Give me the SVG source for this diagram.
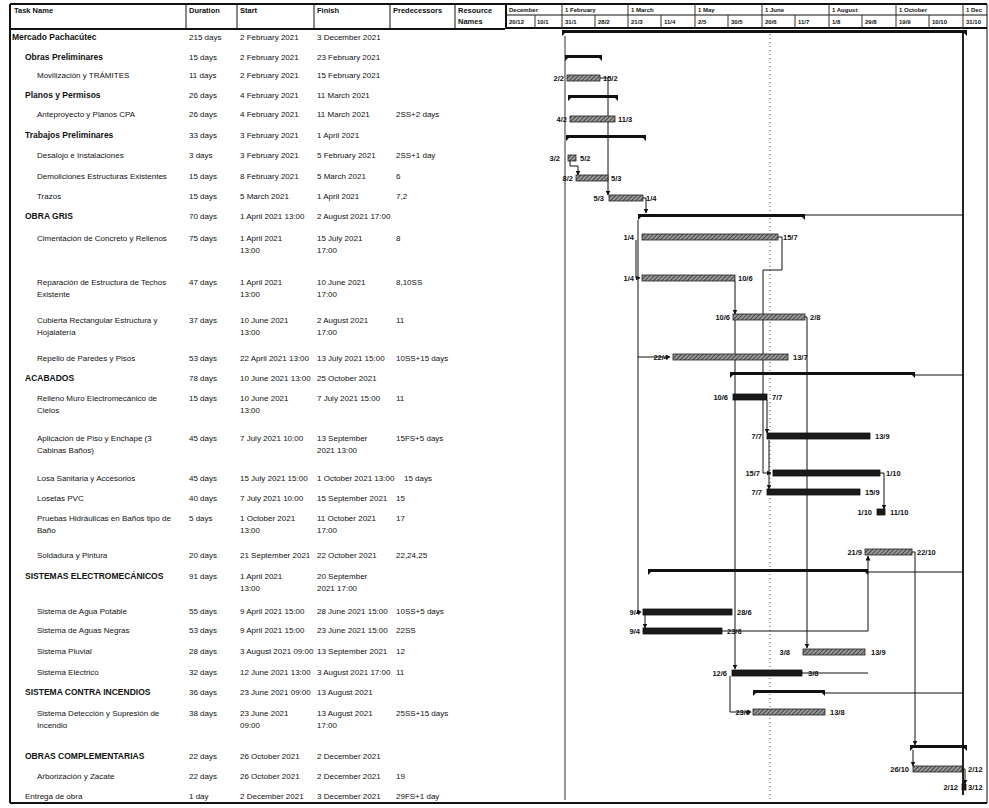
<svg xmlns="http://www.w3.org/2000/svg" width="989" height="808" viewBox="0 0 989 808">
<style>
text{font-family:"Liberation Sans",Arial,sans-serif;fill:#111}
.t{font-size:8px}
.s{font-size:8.5px;font-weight:bold}
.p{font-size:8px}
.h{font-size:7.5px;font-weight:bold}
.tl{font-size:6px;font-weight:bold}
.lb{font-size:7.5px;font-weight:bold}
.ln{stroke:#111;stroke-width:1;fill:none}
.thk{stroke:#111;stroke-width:2;fill:none}
.grid{stroke:#333;stroke-width:1;fill:none}
.dot{stroke:#555;stroke-width:1;stroke-dasharray:1 3;fill:none}
.sum{fill:#111}
.task{fill:url(#hatch);stroke:#222;stroke-width:0.8}
.crit{fill:#1a1a1a;stroke:#111;stroke-width:0.8}
.conn{stroke:#111;stroke-width:1;fill:none}
</style>
<defs>
<pattern id="hatch" width="3" height="3" patternUnits="userSpaceOnUse" patternTransform="rotate(45)">
<rect width="3" height="3" fill="#9a9a9a"/><line x1="0" y1="0" x2="0" y2="3" stroke="#222" stroke-width="1.4"/>
</pattern>
<marker id="ah" markerWidth="5" markerHeight="5" refX="4.5" refY="2.5" orient="auto" markerUnits="userSpaceOnUse">
<path d="M0,0 L5,2.5 L0,5 Z" fill="#111"/>
</marker>
</defs>
<rect width="989" height="808" fill="#fff"/>

<g id="table-frame">
<line class="thk" x1="10" y1="4" x2="10" y2="803"/>
<line class="thk" x1="10" y1="4" x2="987" y2="4"/>
<line class="thk" x1="10" y1="29" x2="505" y2="29"/>
<line class="thk" x1="10" y1="803" x2="987" y2="803"/>
<line class="ln" x1="186" y1="4" x2="186" y2="29"/>
<line class="ln" x1="237" y1="4" x2="237" y2="29"/>
<line class="ln" x1="314" y1="4" x2="314" y2="29"/>
<line class="ln" x1="390" y1="4" x2="390" y2="29"/>
<line class="ln" x1="455" y1="4" x2="455" y2="29"/>
<line class="thk" x1="506" y1="4" x2="506" y2="29"/>
<text class="h" x="14" y="13">Task Name</text>
<text class="h" x="189" y="13">Duration</text>
<text class="h" x="240" y="13">Start</text>
<text class="h" x="317" y="13">Finish</text>
<text class="h" x="393" y="13">Predecessors</text>
<text class="h" x="458" y="13">Resource</text>
<text class="h" x="458" y="24">Names</text>
</g>

<g id="timescale">
<line class="ln" x1="506" y1="15" x2="987" y2="15"/>
<line class="thk" x1="506" y1="28" x2="987" y2="28"/>
<line class="ln" x1="987" y1="4" x2="987" y2="803"/>
<g class="grid">
<line x1="562" y1="4" x2="562" y2="28"/><line x1="628" y1="4" x2="628" y2="28"/><line x1="695" y1="4" x2="695" y2="28"/><line x1="762" y1="4" x2="762" y2="28"/><line x1="829" y1="4" x2="829" y2="28"/><line x1="896" y1="4" x2="896" y2="28"/><line x1="963" y1="4" x2="963" y2="28"/>
<line x1="535" y1="15" x2="535" y2="28"/><line x1="595" y1="15" x2="595" y2="28"/><line x1="661" y1="15" x2="661" y2="28"/><line x1="728" y1="15" x2="728" y2="28"/><line x1="795" y1="15" x2="795" y2="28"/><line x1="862" y1="15" x2="862" y2="28"/><line x1="929" y1="15" x2="929" y2="28"/>
</g>
<text class="tl" x="509" y="12">December</text>
<text class="tl" x="565" y="12">1 February</text>
<text class="tl" x="631" y="12">1 March</text>
<text class="tl" x="698" y="12">1 May</text>
<text class="tl" x="765" y="12">1 June</text>
<text class="tl" x="832" y="12">1 August</text>
<text class="tl" x="899" y="12">1 October</text>
<text class="tl" x="966" y="12">1 Dec</text>
<text class="tl" x="509" y="24">20/12</text><text class="tl" x="537" y="24">10/1</text>
<text class="tl" x="565" y="24">31/1</text><text class="tl" x="598" y="24">28/2</text>
<text class="tl" x="631" y="24">21/3</text><text class="tl" x="664" y="24">11/4</text>
<text class="tl" x="698" y="24">2/5</text><text class="tl" x="731" y="24">30/5</text>
<text class="tl" x="765" y="24">20/6</text><text class="tl" x="798" y="24">11/7</text>
<text class="tl" x="832" y="24">1/8</text><text class="tl" x="865" y="24">29/8</text>
<text class="tl" x="899" y="24">19/9</text><text class="tl" x="932" y="24">10/10</text>
<text class="tl" x="966" y="24">31/10</text>
</g>

<g id="gridlines">
<line class="grid" x1="565" y1="36" x2="565" y2="800"/>
<line class="dot" x1="770" y1="30" x2="770" y2="800"/>
<line x1="963" y1="30" x2="963" y2="795" stroke="#222" stroke-width="2"/>
</g>

<g id="connectors">
<path class="conn" d="M600,78 H608 V195" marker-end="url(#ah)"/>
<path class="conn" d="M570,161 V166 H578 V175" marker-end="url(#ah)"/>
<path class="conn" d="M643,198 H646 V213" marker-end="url(#ah)"/>
<path class="conn" d="M638,220 V612 H641" marker-end="url(#ah)"/>
<path class="conn" d="M636,240 V278 H640" marker-end="url(#ah)"/>
<path class="conn" d="M638,357 H670" marker-end="url(#ah)"/>
<path class="conn" d="M778,237 H782 V270 H763 V473 H771" marker-end="url(#ah)"/>
<path class="conn" d="M735,281 V314" marker-end="url(#ah)"/>
<path class="conn" d="M735,320 V669" marker-end="url(#ah)"/>
<path class="conn" d="M805,317 H807 V648" marker-end="url(#ah)"/>
<path class="conn" d="M767,400 V433" marker-end="url(#ah)"/>
<path class="conn" d="M769,440 V489" marker-end="url(#ah)"/>
<path class="conn" d="M880,473 H884 V509" marker-end="url(#ah)"/>
<path class="conn" d="M805,215 H963"/>
<path class="conn" d="M915,375 H963"/>
<path class="conn" d="M868,572 H963"/>
<path class="conn" d="M825,693 H963"/>
<path class="conn" d="M722,631 H868 V556" marker-end="url(#ah)"/>
<path class="conn" d="M802,673 H868"/>
<path class="conn" d="M645,615 V628" marker-end="url(#ah)"/>
<path class="conn" d="M730,676 V712 H751" marker-end="url(#ah)"/>
<path class="conn" d="M912,552 H915 V745" marker-end="url(#ah)"/>
<path class="conn" d="M913,750 V766" marker-end="url(#ah)"/>
<path class="conn" d="M962,769 H965 V784" marker-end="url(#ah)"/>
</g>

<g id="row1">
<text class="s" x="12" y="40">Mercado Pachacútec</text>
<text class="t" x="189" y="40">215 days</text>
<text class="t" x="240" y="40">2 February 2021</text>
<text class="t" x="317" y="40">3 December 2021</text>
<path class="sum" d="M562,30 H967 V36 L964,33 H565 L562,36 Z"/>
</g>
<g id="row2">
<text class="s" x="25" y="60">Obras Preliminares</text>
<text class="t" x="189" y="60">15 days</text>
<text class="t" x="240" y="60">2 February 2021</text>
<text class="t" x="317" y="60">23 February 2021</text>
<path class="sum" d="M565,55 H602 V61 L599,58 H568 L565,61 Z"/>
</g>
<g id="row3">
<text class="t" x="37" y="78">Movilización y TRÁMITES</text>
<text class="t" x="189" y="78">11 days</text>
<text class="t" x="240" y="78">2 February 2021</text>
<text class="t" x="317" y="78">15 February 2021</text>
<rect class="task" x="567" y="75" width="33" height="6"/>
<text class="lb" x="564" y="81" text-anchor="end">2/2</text>
<text class="lb" x="603" y="81">15/2</text>
</g>
<g id="row4">
<text class="s" x="25" y="98">Planos y Permisos</text>
<text class="t" x="189" y="98">26 days</text>
<text class="t" x="240" y="98">4 February 2021</text>
<text class="t" x="317" y="98">11 March 2021</text>
<path class="sum" d="M568,95 H618 V101 L615,98 H571 L568,101 Z"/>
</g>
<g id="row5">
<text class="t" x="37" y="117">Anteproyecto y Planos CPA</text>
<text class="t" x="189" y="117">26 days</text>
<text class="t" x="240" y="117">4 February 2021</text>
<text class="t" x="317" y="117">11 March 2021</text>
<text class="p" x="396" y="117">2SS+2 days</text>
<rect class="task" x="570" y="116" width="45" height="6"/>
<text class="lb" x="567" y="122" text-anchor="end">4/2</text>
<text class="lb" x="618" y="122">11/3</text>
</g>
<g id="row6">
<text class="s" x="25" y="138">Trabajos Preliminares</text>
<text class="t" x="189" y="138">33 days</text>
<text class="t" x="240" y="138">3 February 2021</text>
<text class="t" x="317" y="138">1 April 2021</text>
<path class="sum" d="M566,135 H646 V141 L643,138 H569 L566,141 Z"/>
</g>
<g id="row7">
<text class="t" x="37" y="158">Desalojo e Instalaciones</text>
<text class="t" x="189" y="158">3 days</text>
<text class="t" x="240" y="158">3 February 2021</text>
<text class="t" x="317" y="158">5 February 2021</text>
<text class="p" x="396" y="158">2SS+1 day</text>
<rect class="task" x="568" y="155" width="8" height="6"/>
<text class="lb" x="560" y="161" text-anchor="end">3/2</text>
<text class="lb" x="580" y="161">5/2</text>
</g>
<g id="row8">
<text class="t" x="37" y="179">Demoliciones Estructuras Existentes</text>
<text class="t" x="189" y="179">15 days</text>
<text class="t" x="240" y="179">8 February 2021</text>
<text class="t" x="317" y="179">5 March 2021</text>
<text class="p" x="396" y="179">6</text>
<rect class="task" x="576" y="175" width="32" height="6"/>
<text class="lb" x="573" y="181" text-anchor="end">8/2</text>
<text class="lb" x="611" y="181">5/3</text>
</g>
<g id="row9">
<text class="t" x="37" y="199">Trazos</text>
<text class="t" x="189" y="199">15 days</text>
<text class="t" x="240" y="199">5 March 2021</text>
<text class="t" x="317" y="199">1 April 2021</text>
<text class="p" x="396" y="199">7,2</text>
<rect class="task" x="609" y="195" width="34" height="6"/>
<text class="lb" x="604" y="201" text-anchor="end">5/3</text>
<text class="lb" x="646" y="201">1/4</text>
</g>
<g id="row10">
<text class="s" x="25" y="219">OBRA GRIS</text>
<text class="t" x="189" y="219">70 days</text>
<text class="t" x="240" y="219">1 April 2021 13:00</text>
<text class="t" x="317" y="219">2 August 2021 17:00</text>
<path class="sum" d="M638,214 H805 V220 L802,217 H641 L638,220 Z"/>
</g>
<g id="row11">
<text class="t" x="37" y="241">Cimentación de Concreto y Rellenos</text>
<text class="t" x="189" y="241">75 days</text>
<text class="t" x="240" y="241">1 April 2021</text>
<text class="t" x="240" y="253">13:00</text>
<text class="t" x="317" y="241">15 July 2021</text>
<text class="t" x="317" y="253">17:00</text>
<text class="p" x="396" y="241">8</text>
<rect class="task" x="642" y="234" width="136" height="6"/>
<text class="lb" x="634" y="240" text-anchor="end">1/4</text>
<text class="lb" x="783" y="240">15/7</text>
</g>
<g id="row12">
<text class="t" x="37" y="285">Reparación de Estructura de Techos</text>
<text class="t" x="37" y="297">Existente</text>
<text class="t" x="189" y="285">47 days</text>
<text class="t" x="240" y="285">1 April 2021</text>
<text class="t" x="240" y="297">13:00</text>
<text class="t" x="317" y="285">10 June 2021</text>
<text class="t" x="317" y="297">17:00</text>
<text class="p" x="396" y="285">8,10SS</text>
<rect class="task" x="642" y="275" width="93" height="6"/>
<text class="lb" x="634" y="281" text-anchor="end">1/4</text>
<text class="lb" x="738" y="281">10/6</text>
</g>
<g id="row13">
<text class="t" x="37" y="323">Cubierta Rectangular Estructura y</text>
<text class="t" x="37" y="335">Hojalatería</text>
<text class="t" x="189" y="323">37 days</text>
<text class="t" x="240" y="323">10 June 2021</text>
<text class="t" x="240" y="335">13:00</text>
<text class="t" x="317" y="323">2 August 2021</text>
<text class="t" x="317" y="335">17:00</text>
<text class="p" x="396" y="323">11</text>
<rect class="task" x="733" y="314" width="72" height="6"/>
<text class="lb" x="730" y="320" text-anchor="end">10/6</text>
<text class="lb" x="810" y="320">2/8</text>
</g>
<g id="row14">
<text class="t" x="37" y="361">Repello de Paredes y Pisos</text>
<text class="t" x="189" y="361">53 days</text>
<text class="t" x="240" y="361">22 April 2021 13:00</text>
<text class="t" x="317" y="361">13 July 2021 15:00</text>
<text class="p" x="396" y="361">10SS+15 days</text>
<rect class="task" x="673" y="354" width="115" height="6"/>
<text class="lb" x="668" y="360" text-anchor="end">22/4</text>
<text class="lb" x="793" y="360">13/7</text>
</g>
<g id="row15">
<text class="s" x="25" y="381">ACABADOS</text>
<text class="t" x="189" y="381">78 days</text>
<text class="t" x="240" y="381">10 June 2021 13:00</text>
<text class="t" x="317" y="381">25 October 2021</text>
<path class="sum" d="M730,372 H915 V378 L912,375 H733 L730,378 Z"/>
</g>
<g id="row16">
<text class="t" x="37" y="401">Relleno Muro Electromecánico de</text>
<text class="t" x="37" y="413">Cielos</text>
<text class="t" x="189" y="401">15 days</text>
<text class="t" x="240" y="401">10 June 2021</text>
<text class="t" x="240" y="413">13:00</text>
<text class="t" x="317" y="401">7 July 2021 15:00</text>
<text class="p" x="396" y="401">11</text>
<rect class="crit" x="733" y="394" width="34" height="6"/>
<text class="lb" x="728" y="400" text-anchor="end">10/6</text>
<text class="lb" x="772" y="400">7/7</text>
</g>
<g id="row17">
<text class="t" x="37" y="441">Aplicación de Piso y Enchape (3</text>
<text class="t" x="37" y="453">Cabinas Baños)</text>
<text class="t" x="189" y="441">45 days</text>
<text class="t" x="240" y="441">7 July 2021 10:00</text>
<text class="t" x="317" y="441">13 September</text>
<text class="t" x="317" y="453">2021 13:00</text>
<text class="p" x="396" y="441">15FS+5 days</text>
<rect class="crit" x="767" y="433" width="103" height="6"/>
<text class="lb" x="762" y="439" text-anchor="end">7/7</text>
<text class="lb" x="875" y="439">13/9</text>
</g>
<g id="row18">
<text class="t" x="37" y="481">Losa Sanitaria y Accesorios</text>
<text class="t" x="189" y="481">45 days</text>
<text class="t" x="240" y="481">15 July 2021 15:00</text>
<text class="t" x="317" y="481">1 October 2021 13:00</text>
<text class="p" x="404" y="481">15 days</text>
<rect class="crit" x="773" y="470" width="107" height="6"/>
<text class="lb" x="760" y="476" text-anchor="end">15/7</text>
<text class="lb" x="886" y="476">1/10</text>
</g>
<g id="row19">
<text class="t" x="37" y="501">Losetas PVC</text>
<text class="t" x="189" y="501">40 days</text>
<text class="t" x="240" y="501">7 July 2021 10:00</text>
<text class="t" x="317" y="501">15 September 2021</text>
<text class="p" x="396" y="501">15</text>
<rect class="crit" x="767" y="489" width="93" height="6"/>
<text class="lb" x="762" y="495" text-anchor="end">7/7</text>
<text class="lb" x="865" y="495">15/9</text>
</g>
<g id="row20">
<text class="t" x="37" y="521">Pruebas Hidráulicas en Baños tipo de</text>
<text class="t" x="37" y="533">Baño</text>
<text class="t" x="189" y="521">5 days</text>
<text class="t" x="240" y="521">1 October 2021</text>
<text class="t" x="240" y="533">13:00</text>
<text class="t" x="317" y="521">11 October 2021</text>
<text class="t" x="317" y="533">17:00</text>
<text class="p" x="396" y="521">17</text>
<rect class="crit" x="877" y="509" width="8" height="6"/>
<text class="lb" x="872" y="515" text-anchor="end">1/10</text>
<text class="lb" x="890" y="515">11/10</text>
</g>
<g id="row21">
<text class="t" x="37" y="558">Soldadura y Pintura</text>
<text class="t" x="189" y="558">20 days</text>
<text class="t" x="240" y="558">21 September 2021</text>
<text class="t" x="317" y="558">22 October 2021</text>
<text class="p" x="396" y="558">22,24,25</text>
<rect class="task" x="865" y="549" width="47" height="6"/>
<text class="lb" x="862" y="555" text-anchor="end">21/9</text>
<text class="lb" x="917" y="555">22/10</text>
</g>
<g id="row22">
<text class="s" x="25" y="579">SISTEMAS ELECTROMECÁNICOS</text>
<text class="t" x="189" y="579">91 days</text>
<text class="t" x="240" y="579">1 April 2021</text>
<text class="t" x="240" y="591">13:00</text>
<text class="t" x="317" y="579">20 September</text>
<text class="t" x="317" y="591">2021 17:00</text>
<path class="sum" d="M648,569 H868 V575 L865,572 H651 L648,575 Z"/>
</g>
<g id="row23">
<text class="t" x="37" y="614">Sistema de Agua Potable</text>
<text class="t" x="189" y="614">55 days</text>
<text class="t" x="240" y="614">9 April 2021 15:00</text>
<text class="t" x="317" y="614">28 June 2021 15:00</text>
<text class="p" x="396" y="614">10SS+5 days</text>
<rect class="crit" x="643" y="609" width="89" height="6"/>
<text class="lb" x="640" y="615" text-anchor="end">9/4</text>
<text class="lb" x="737" y="615">28/6</text>
</g>
<g id="row24">
<text class="t" x="37" y="633">Sistema de Aguas Negras</text>
<text class="t" x="189" y="633">53 days</text>
<text class="t" x="240" y="633">9 April 2021 15:00</text>
<text class="t" x="317" y="633">23 June 2021 15:00</text>
<text class="p" x="396" y="633">22SS</text>
<rect class="crit" x="643" y="628" width="79" height="6"/>
<text class="lb" x="640" y="634" text-anchor="end">9/4</text>
<text class="lb" x="727" y="634">23/6</text>
</g>
<g id="row25">
<text class="t" x="37" y="654">Sistema Pluvial</text>
<text class="t" x="189" y="654">28 days</text>
<text class="t" x="240" y="654">3 August 2021 09:00</text>
<text class="t" x="317" y="654">13 September 2021</text>
<text class="p" x="396" y="654">12</text>
<rect class="task" x="803" y="649" width="62" height="6"/>
<text class="lb" x="790" y="655" text-anchor="end">3/8</text>
<text class="lb" x="871" y="655">13/9</text>
</g>
<g id="row26">
<text class="t" x="37" y="675">Sistema Eléctrico</text>
<text class="t" x="189" y="675">32 days</text>
<text class="t" x="240" y="675">12 June 2021 13:00</text>
<text class="t" x="317" y="675">3 August 2021 17:00</text>
<text class="p" x="396" y="675">11</text>
<rect class="crit" x="732" y="670" width="70" height="6"/>
<text class="lb" x="727" y="676" text-anchor="end">12/6</text>
<text class="lb" x="808" y="676">3/8</text>
</g>
<g id="row27">
<text class="s" x="25" y="695">SISTEMA CONTRA INCENDIOS</text>
<text class="t" x="189" y="695">36 days</text>
<text class="t" x="240" y="695">23 June 2021 09:00</text>
<text class="t" x="317" y="695">13 August 2021</text>
<path class="sum" d="M753,690 H825 V696 L822,693 H756 L753,696 Z"/>
</g>
<g id="row28">
<text class="t" x="37" y="716">Sistema Detección y Supresión de</text>
<text class="t" x="37" y="728">Incendio</text>
<text class="t" x="189" y="716">38 days</text>
<text class="t" x="240" y="716">23 June 2021</text>
<text class="t" x="240" y="728">09:00</text>
<text class="t" x="317" y="716">13 August 2021</text>
<text class="t" x="317" y="728">17:00</text>
<text class="p" x="396" y="716">25SS+15 days</text>
<rect class="task" x="753" y="709" width="72" height="6"/>
<text class="lb" x="750" y="715" text-anchor="end">23/6</text>
<text class="lb" x="830" y="715">13/8</text>
</g>
<g id="row29">
<text class="s" x="25" y="759">OBRAS COMPLEMENTARIAS</text>
<text class="t" x="189" y="759">22 days</text>
<text class="t" x="240" y="759">26 October 2021</text>
<text class="t" x="317" y="759">2 December 2021</text>
<path class="sum" d="M910,745 H967 V751 L964,748 H913 L910,751 Z"/>
</g>
<g id="row30">
<text class="t" x="37" y="779">Arborización y Zacate</text>
<text class="t" x="189" y="779">22 days</text>
<text class="t" x="240" y="779">26 October 2021</text>
<text class="t" x="317" y="779">2 December 2021</text>
<text class="p" x="396" y="779">19</text>
<rect class="task" x="913" y="766" width="49" height="6"/>
<text class="lb" x="909" y="772" text-anchor="end">26/10</text>
<text class="lb" x="968" y="772">2/12</text>
</g>
<g id="row31">
<text class="t" x="25" y="799">Entrega de obra</text>
<text class="t" x="189" y="799">1 day</text>
<text class="t" x="240" y="799">2 December 2021</text>
<text class="t" x="317" y="799">3 December 2021</text>
<text class="p" x="396" y="799">29FS+1 day</text>
<rect class="crit" x="962" y="784" width="4" height="6"/>
<text class="lb" x="958" y="790" text-anchor="end">2/12</text>
<text class="lb" x="968" y="790">3/12</text>
</g>
</svg>
